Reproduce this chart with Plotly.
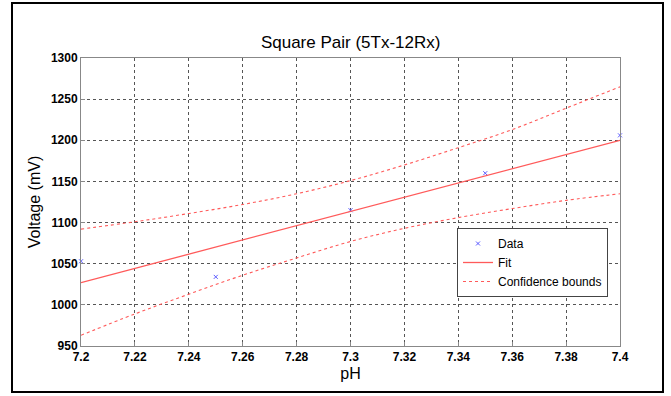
import plotly.graph_objects as go

# Data
data_ph = [7.2, 7.25, 7.3, 7.35, 7.4]
data_mv = [1053, 1034, 1115, 1160, 1206]

fit_ph = [7.2, 7.4]
fit_mv = [1027, 1200]

bound_ph = [7.2, 7.22, 7.24, 7.26, 7.28, 7.3, 7.32, 7.34, 7.36, 7.38, 7.4]
upper_mv = [1092, 1101, 1111, 1122, 1135, 1151, 1170, 1191, 1213, 1239, 1265]
lower_mv = [963, 989, 1013, 1036, 1057, 1077, 1093, 1106, 1117, 1127, 1135]

x_ticks = [7.2, 7.22, 7.24, 7.26, 7.28, 7.3, 7.32, 7.34, 7.36, 7.38, 7.4]
x_labels = ["7.2", "7.22", "7.24", "7.26", "7.28", "7.3", "7.32", "7.34", "7.36", "7.38", "7.4"]
y_ticks = [950, 1000, 1050, 1100, 1150, 1200, 1250, 1300]

FONT = "Liberation Sans, Arial, sans-serif"
RED = "#ff5a5a"

fig = go.Figure()
fig.add_trace(go.Scatter(x=data_ph, y=data_mv, mode="markers", name="Data",
                         marker=dict(symbol="x-thin", size=4, color="#5a5aff",
                                     line=dict(width=1, color="#5a5aff")),
                         cliponaxis=False))
fig.add_trace(go.Scatter(x=fit_ph, y=fit_mv, mode="lines", name="Fit",
                         line=dict(color=RED, width=1.3)))
fig.add_trace(go.Scatter(x=bound_ph, y=upper_mv, mode="lines", name="Confidence bounds",
                         line=dict(color=RED, width=1.1, dash="dot", shape="spline")))
fig.add_trace(go.Scatter(x=bound_ph, y=lower_mv, mode="lines", showlegend=False,
                         line=dict(color=RED, width=1.1, dash="dot", shape="spline")))

axis_common = dict(showgrid=True, gridcolor="#555555", griddash="dot", gridwidth=1,
                   showline=True, linecolor="#888888", linewidth=1, mirror=True,
                   zeroline=False, ticks="inside", ticklen=4, tickcolor="#888888",
                   tickfont=dict(family=FONT, size=12, color="black", weight="bold"))

fig.update_layout(
    width=671, height=396,
    margin=dict(l=81, r=51, t=58, b=50),
    paper_bgcolor="white", plot_bgcolor="white",
    title=dict(text="Square Pair (5Tx-12Rx)", x=0.5226, xanchor="center",
               y=1 - 42.5 / 396, yanchor="middle",
               font=dict(family=FONT, size=17, color="black")),
    xaxis=dict(range=[7.2, 7.4], tickvals=x_ticks, ticktext=x_labels,
               title=dict(text="pH", font=dict(family=FONT, size=16, color="black"), standoff=4),
               **axis_common),
    yaxis=dict(range=[950, 1300], tickvals=y_ticks,
               title=dict(text="Voltage (mV)", font=dict(family=FONT, size=16, color="black"), standoff=6),
               **axis_common),
    legend=dict(x=(608 - 81) / 539, xanchor="right", y=(346 - 228) / 288, yanchor="top",
                bgcolor="white", bordercolor="#444444", borderwidth=1,
                font=dict(family=FONT, size=12, color="black"),
                itemwidth=30, tracegroupgap=0),
    showlegend=True,
)

fig.add_shape(type="rect", xref="paper", yref="paper",
              x0=(12 - 81) / 539, x1=(663 - 81) / 539,
              y0=(346 - 392) / 288, y1=(346 - 3) / 288,
              line=dict(color="black", width=2), fillcolor="rgba(0,0,0,0)", layer="above")

fig.write_html("out.html")
